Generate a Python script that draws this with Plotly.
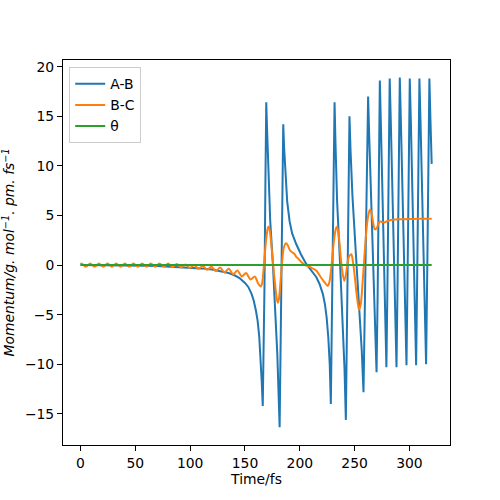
import plotly.graph_objects as go

# time axis (fs) and momentum values
t_ab = [0, 10, 20, 30, 40, 50, 60, 70, 80, 90, 100, 110, 120, 130, 135, 140,
        145, 150, 153, 156, 158, 160, 161.5, 163, 164.2, 165.3, 166.2, 167,
        167.8, 168.6, 169.4, 170.2, 171.5, 173, 175.5, 177.5, 179.5, 181.6,
        182.5, 183.3, 184.1, 184.9, 185.7, 187, 188.5, 190.7, 193, 196.8, 201,
        206, 210, 215, 218, 221, 223, 224.5, 226, 227.3, 228.3, 229.2, 230,
        230.9, 231.7, 232.5, 234, 236.8, 239, 240.8, 242, 242.8, 243.6, 244.5,
        245.3, 246.3, 248, 251.5, 254.5, 256.5, 258.1, 259.2, 260.3, 261.3,
        262.3, 263.3, 265, 267, 268.8, 270, 271, 272, 273, 274, 275.5, 277.5,
        279, 280, 281, 282, 283, 284.5, 286.5, 288.2, 289.2, 290.2, 291.2,
        292.2, 293.7, 295.7, 297.3, 298.3, 299.3, 300.3, 301.3, 302.7, 304.5,
        306.1, 307.1, 308.1, 309.1, 310.1, 311.5, 313.5, 315.2, 316.2, 317.2,
        318.2, 319.2, 320.3]
ab = [0.0, 0.0, -0.01, -0.02, -0.03, -0.05, -0.07, -0.1, -0.14, -0.18, -0.24,
      -0.33, -0.45, -0.65, -0.8, -1.0, -1.3, -1.8, -2.2, -2.9, -3.6, -4.6,
      -5.6, -7.2, -9.2, -11.8, -14.2, -9, -2, 8, 16.4, 13.5, 8.5, 4.5, 0.0,
      -4, -9, -16.35, -8, 0, 8, 14.2, 11.8, 8.8, 6.4, 4.4, 3.2, 2.1, 1.1, 0.1,
      -0.5, -1.2, -1.9, -2.9, -4.0, -5.3, -7.3, -10, -14.0, -7, 1, 10, 16.4,
      12.5, 6.5, 0, -5.5, -10.5, -15.6, -8, 0, 8.5, 15.0, 11.5, 7, 0.5, -5,
      -8.6, -12.8, -6, 2, 10, 17.0, 13, 6.5, -0.5, -6.5, -10.8, -3, 8, 18.6,
      14, 6.5, -2.5, -10.3, -1.5, 8.5, 18.8, 14.5, 7, -2, -10.3, -1.5, 8.5,
      18.9, 14.5, 7, -1.5, -10.1, -1, 9, 18.8, 14.5, 7, -1.5, -10.1, -1, 9,
      18.8, 14.5, 7, -1.5, -10.0, -1, 9, 18.8, 14.5, 10.2]

t_bc = [0, 0.9, 4.9, 8.8, 12.8, 16.7, 20.7, 24.6, 28.6, 32.5, 36.5, 40.4, 44.4,
        48.3, 52.3, 56.2, 60.2, 64.1, 68.1, 72.0, 76.0, 79.9, 83.9, 87.8, 91.8,
        95.7, 99.7, 103.6, 107.6, 111.5, 115.5, 119.4, 123.4, 127.3, 131.3,
        135.2, 139.2, 143.1, 147.1, 151.0, 155.0, 158.9, 162.0, 164.3, 165.5,
        166.5, 168, 169.5, 171, 171.8, 173, 174.5, 176, 177.5, 179, 180, 181,
        182.5, 184, 185.5, 187.5, 189, 191, 193, 195, 197, 199, 201, 203, 205,
        207, 209, 211, 213, 215, 217, 219, 221, 223, 225.5, 227, 228.5, 230,
        231.5, 233, 234, 235.5, 237, 238.5, 240.5, 242, 243.5, 245, 247, 248.5,
        250, 251.5, 253, 254, 255.5, 257, 258.5, 260, 261.5, 263, 264.2, 265.5,
        267, 268.4, 270, 271.5, 273, 275, 277, 280, 283, 287, 292, 300, 310,
        320.3]
bc = [0.1, 0.17, -0.17, 0.17, -0.17, 0.17, -0.17, 0.17, -0.17, 0.17, -0.17,
      0.17, -0.17, 0.17, -0.17, 0.17, -0.17, 0.17, -0.17, 0.17, -0.17, 0.16,
      -0.2, 0.12, -0.25, 0.05, -0.3, -0.0, -0.38, -0.08, -0.48, -0.15, -0.6,
      -0.25, -0.75, -0.38, -0.92, -0.55, -1.15, -0.8, -1.45, -1.15, -1.85,
      -2.15, -1.9, -1.0, 1.0, 2.8, 3.8, 3.9, 3.2, 1.5, -0.3, -2.0, -3.4, -3.8,
      -3.4, -1.5, 0.5, 1.8, 2.2, 2.0, 1.5, 1.3, 1.15, 0.8, 0.6, 0.35, 0.15,
      0.0, -0.1, -0.15, -0.3, -0.4, -0.55, -0.85, -1.2, -1.5, -1.8, -2.1, -1.7,
      -0.5, 1.2, 2.8, 3.7, 3.9, 3.0, 1.2, -0.4, -1.6, -1.0, 0.2, 0.9, 1.1, 0.3,
      -1.0, -2.6, -3.9, -4.5, -4.0, -2.2, 0.2, 2.5, 4.3, 5.3, 5.6, 5.2, 4.2,
      3.6, 3.7, 4.1, 4.4, 4.35, 4.3, 4.45, 4.55, 4.6, 4.62, 4.65, 4.66, 4.66]

t_theta = [0, 320.3]
theta = [0, 0]

x_ticks = [0, 50, 100, 150, 200, 250, 300]
y_ticks = [-15, -10, -5, 0, 5, 10, 15, 20]

font = dict(family="DejaVu Sans", size=13.9, color="black")

fig = go.Figure()
fig.add_trace(go.Scatter(x=t_ab, y=ab, mode="lines", name="A-B",
                         line=dict(color="#1f77b4", width=2)))
fig.add_trace(go.Scatter(x=t_bc, y=bc, mode="lines", name="B-C",
                         line=dict(color="#ff7f0e", width=2, shape="spline", smoothing=0.8)))
fig.add_trace(go.Scatter(x=t_theta, y=theta, mode="lines", name="θ",
                         line=dict(color="#2ca02c", width=2)))

axis_style = dict(showline=True, linecolor="black", linewidth=1, mirror=True,
                  ticks="outside", ticklen=5, tickwidth=1, tickcolor="black",
                  showgrid=False, zeroline=False, tickfont=font, automargin=False)

fig.update_xaxes(range=[-16, 337], tickvals=x_ticks, **axis_style,
                 title=dict(text="Time/fs", font=font, standoff=2))
fig.update_yaxes(range=[-18.13, 20.67], tickvals=y_ticks, **axis_style)

# rotated y label, placed like matplotlib's
fig.add_annotation(text="<i>Momentum/g. mol<sup>−1</sup>. pm. fs<sup>−1</sup></i>",
                   textangle=-90, xref="paper", yref="paper",
                   x=-0.142, y=0.5, xanchor="center", yanchor="middle",
                   showarrow=False, font=font)

fig.update_layout(
    width=500, height=500,
    margin=dict(l=63, r=50, t=60, b=55, autoexpand=False),
    plot_bgcolor="white", paper_bgcolor="white",
    font=font,
    legend=dict(x=0.016, y=0.981, xanchor="left", yanchor="top",
                bgcolor="rgba(255,255,255,0.8)", bordercolor="#cccccc",
                borderwidth=1, font=font, tracegroupgap=0),
)

# drop the default 8px body margin so the figure sits at the page corner
fig.write_html("out.html", config={"displayModeBar": False},
               post_script="document.body.style.margin='0';")
